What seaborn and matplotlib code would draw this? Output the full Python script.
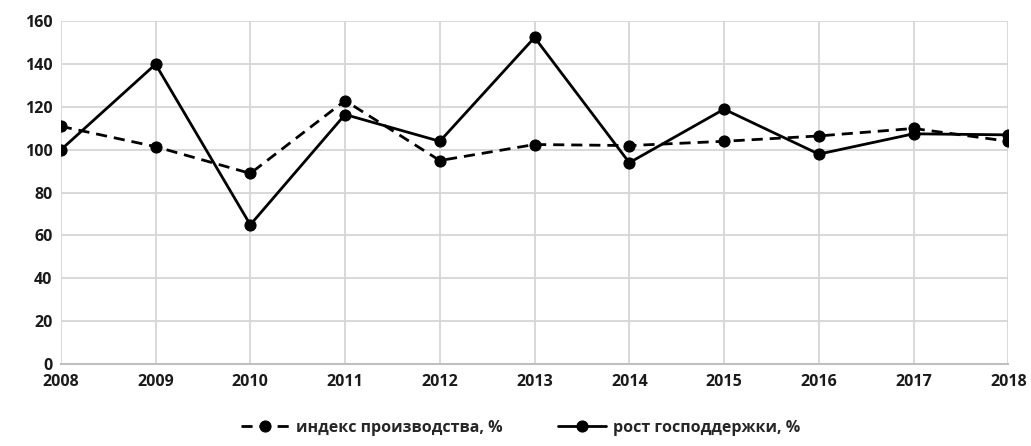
import numpy as np
import pandas as pd
import matplotlib
matplotlib.use("Agg")
import matplotlib.pyplot as plt
import seaborn as sns

years = [2008, 2009, 2010, 2011, 2012, 2013, 2014, 2015, 2016, 2017, 2018]
prod_index = [111, 101.5, 89, 123, 95, 102.5, 102, 104, 106.5, 110, 104]
support_growth = [100, 140, 65, 116.5, 104, 152.5, 94, 119, 98, 107.5, 107]

label_prod = "индекс производства, %"
label_support = "рост господдержки, %"

sns.set_theme(style="white")
plt.rcParams['font.family'] = ['Open Sans', 'DejaVu Sans']

fig = plt.figure(figsize=(10.31, 4.46), dpi=100)
ax = fig.add_axes([0.059, 0.184, 0.919, 0.768])

sns.lineplot(x=years, y=prod_index, ax=ax, color="black", lw=2,
             marker="o", markersize=8, markeredgecolor="black",
             linestyle=(0, (4, 2.5)), label=label_prod)
sns.lineplot(x=years, y=support_growth, ax=ax, color="black", lw=2,
             marker="o", markersize=8, markeredgecolor="black",
             label=label_support)

ax.set_xlim(2008, 2018)
ax.set_ylim(0, 160)
ax.set_xticks(years)
ax.set_yticks(np.arange(0, 161, 20))
ax.grid(True, color="#d6d6d6", lw=1.3)
ax.set_axisbelow(True)
for s in ["top", "right", "left"]:
    ax.spines[s].set_visible(False)
ax.spines["bottom"].set_color("#bfbfbf")
ax.spines["bottom"].set_linewidth(1.5)
ax.tick_params(axis="both", length=0, labelsize=11.5, colors="#1a1a1a")
ax.tick_params(axis="x", pad=7)
ax.tick_params(axis="y", pad=6)
for t in ax.get_xticklabels() + ax.get_yticklabels():
    t.set_fontweight("bold")

ax.get_legend().remove()
h, l = ax.get_legend_handles_labels()
fig.legend(h, l, loc="lower center", bbox_to_anchor=(0.505, -0.01), ncol=2,
           frameon=False, handlelength=3.0, columnspacing=3.5,
           handletextpad=0.4, prop={"weight": "bold", "size": 11.5})

fig.savefig("out.png", dpi=100)
